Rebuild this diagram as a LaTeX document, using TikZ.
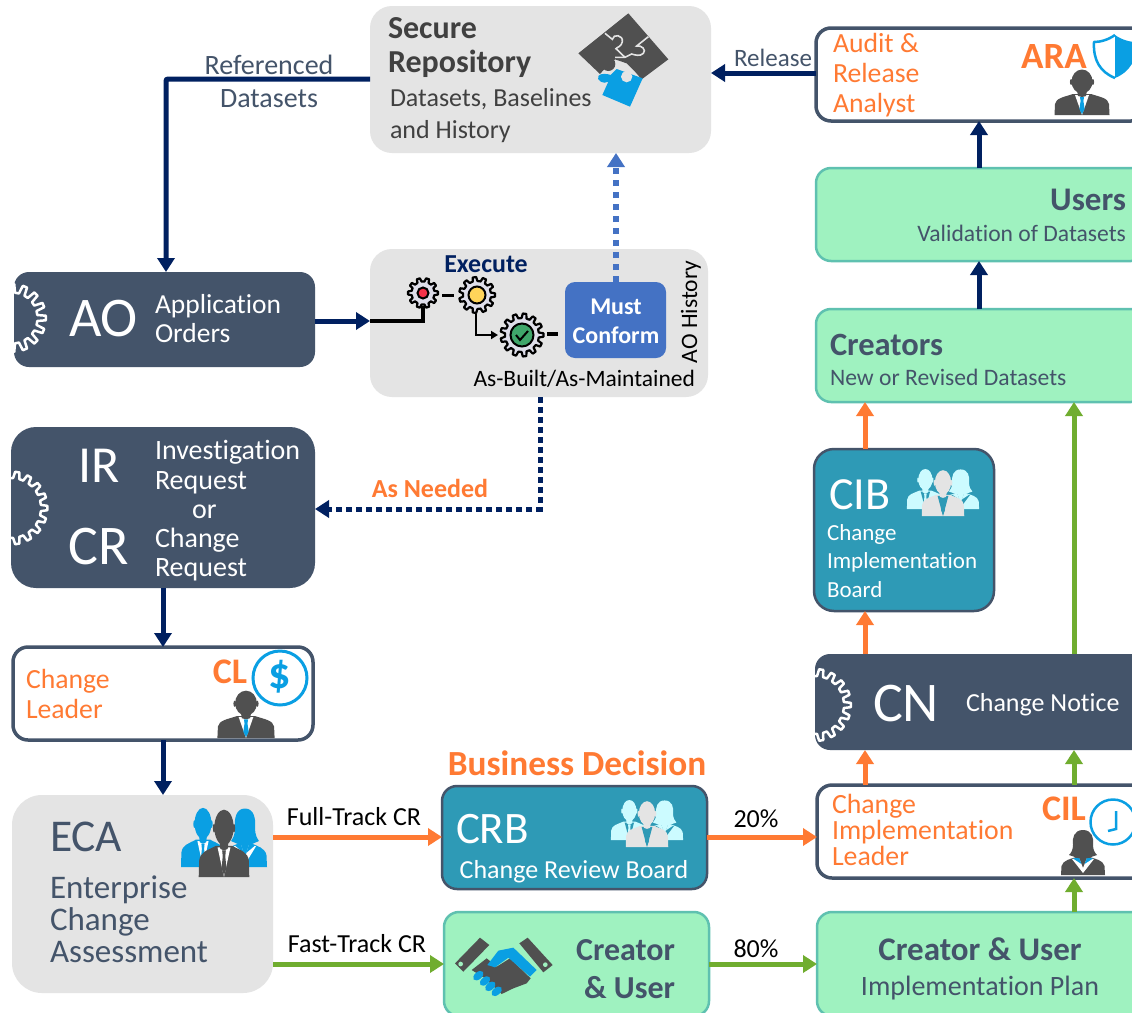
\documentclass[tikz,border=0pt]{standalone}
\usepackage{fontspec}
\setmainfont[Ligatures=NoCommon]{Carlito}
\usetikzlibrary{arrows.meta,shapes.geometric}
\definecolor{navy}{HTML}{002060}
\definecolor{slate}{HTML}{44546A}
\definecolor{panel}{HTML}{E4E4E4}
\definecolor{teal}{HTML}{2E9AB6}
\definecolor{mint}{HTML}{9FF2C0}
\definecolor{mintline}{HTML}{5FC1B0}
\definecolor{orng}{HTML}{FF7A33}
\definecolor{grn}{HTML}{70AD2F}
\definecolor{blu}{HTML}{4472C4}
\definecolor{sky}{HTML}{0A9FE3}
\definecolor{iconDark}{HTML}{505050}
\definecolor{txtDark}{HTML}{404040}
\definecolor{pale}{HTML}{CCFBFF}
\definecolor{cogfill}{HTML}{DEDEEA}
\definecolor{cogred}{HTML}{F5324A}
\definecolor{cogyel}{HTML}{FFD45A}
\definecolor{coggrn}{HTML}{3FA66B}
\newcommand\fsz[2]{\fontsize{#1}{#2}\selectfont}
\tikzset{
  bx/.style={draw,rectangle,inner sep=0pt,outer sep=0pt,anchor=north west},
  panelbox/.style={bx,draw=none,fill=panel,rounded corners=#1},
  darkbox/.style={bx,draw=none,fill=slate,rounded corners=#1},
  whitebox/.style={bx,draw=slate,line width=3.5pt,fill=white,rounded corners=15pt},
  mintbox/.style={bx,draw=mintline,line width=2.5pt,fill=mint,rounded corners=15pt},
  tealbox/.style={bx,draw=slate,line width=2.5pt,fill=teal,rounded corners=#1},
  txt/.style={inner sep=0pt,outer sep=0pt,anchor=west,align=left},
  conn/.style={line width=5pt,-{Triangle[length=14pt,width=17pt]}},
  navyarrow/.style={conn,draw=navy},
  orangearrow/.style={conn,draw=orng},
  greenarrow/.style={conn,draw=grn},
  halfgear/.style={draw=white,line width=2.5pt,line join=round},
  smallgear/.style={draw=black,fill=cogfill,line width=2.2pt,line join=round},
}
% gear outline
\newcommand\cog[6]{%
  \pgfmathsetmacro{\st}{360/#5}%
  \path[#6,shift={(#1,#2)}] ({-.3*\st}:#3)
    \foreach \i in {1,...,#5}{
      -- ({(\i-1)*\st-.3*\st}:#3) -- ({(\i-1)*\st-.17*\st}:#4) -- ({(\i-1)*\st+.17*\st}:#4) -- ({(\i-1)*\st+.3*\st}:#3)
    } -- cycle;}
% man icon: bottom centre x,y; scales; colours
\newcommand\manicon[7]{%
  \begin{scope}[shift={(#1,#2)},xscale=#3,yscale=#4]
    \fill[#5] (-27.5,0) -- (-27,-11) .. controls (-26,-17) and (-18,-18) .. (-9,-21) -- (9,-21) .. controls (18,-18) and (26,-17) .. (27,-11) -- (27.5,0) -- cycle;
    \fill[#6] (-7,-20) -- (7,-20) -- (0,0) -- cycle;
    \fill[#7] (-2,-18) -- (2,-18) -- (1.4,-14) -- (2.6,-6) -- (0,-1) -- (-2.6,-6) -- (-1.4,-14) -- cycle;
    \fill[#5] (-5,-25) -- (5,-25) -- (4,-19) -- (0,-18) -- (-4,-19) -- cycle;
    \fill[#5] (0,-33.5) ellipse (10.5 and 12);
    \fill[#5] (-10.8,-33) ellipse (1.3 and 3);
    \fill[#5] (10.8,-33) ellipse (1.3 and 3);
  \end{scope}}
\newcommand\womanicon[7]{%
  \begin{scope}[shift={(#1,#2)},xscale=#3,yscale=#4]
    \fill[#5] (-22,0) -- (-21.5,-9) .. controls (-20,-15) and (-12,-16) .. (-7,-18) -- (7,-18) .. controls (12,-16) and (20,-15) .. (21.5,-9) -- (22,0) -- cycle;
    \fill[#6] (-11,-16) -- (-4,-17) -- (0,-7) -- (4,-17) -- (11,-16) -- (0,-2) -- cycle;
    \fill[#7] (-10,-16.5) -- (-4,-17.5) -- (-1.5,-11) -- cycle;
    \fill[#7] (10,-16.5) -- (4,-17.5) -- (1.5,-11) -- cycle;
    \fill[#5] (0,-45) .. controls (-9,-45) and (-11,-37) .. (-10,-30) .. controls (-10,-25) and (-12,-22) .. (-14,-20) -- (-5,-17) -- (5,-17) -- (14,-20) .. controls (12,-22) and (10,-25) .. (10,-30) .. controls (11,-37) and (9,-45) .. (0,-45) -- cycle;
  \end{scope}}
% three-person group: x y xscale yscale back shirt front tie
\newcommand\groupicon[8]{%
  \begin{scope}[shift={(#1,#2)},xscale=#3,yscale=#4]
    \manicon{-21}{-10}{.8}{1.3}{#5}{#6}{#5}
    \womanicon{21}{-10}{1}{1.3}{#5}{#6}{#5}
    \manicon{0}{0}{.92}{1.48}{#7}{#6}{#8}
  \end{scope}}
\begin{document}
\begin{tikzpicture}[x=1pt,y=-1pt]
\useasboundingbox (0,0) rectangle (1132,1012);
\fill[white] (0,0) rectangle (1132,1012);
\clip (0,0) rectangle (1132,1012);
% column and row guides
\coordinate (colRef) at (166,79);
\coordinate (colLeft) at (163,0);
\coordinate (colUp) at (616,0);
\coordinate (colDn) at (540,0);
\coordinate (colOr) at (865,0);
\coordinate (colGr) at (1074,0);
\coordinate (colNv) at (979,0);
\coordinate (rowRel) at (0,73);
\coordinate (rowAO) at (0,321);
\coordinate (rowNeed) at (0,509);
\coordinate (rowFull) at (0,837);
\coordinate (rowFast) at (0,964);
% boxes
\node[panelbox=22pt,minimum width=341pt,minimum height=147pt] (repo) at (370,6) {};
\node[panelbox=22pt,minimum width=338pt,minimum height=148pt] (exec) at (370,249) {};
\node[darkbox=15pt,minimum width=301pt,minimum height=95pt] (ao) at (14,272) {};
\node[darkbox=25pt,minimum width=304pt,minimum height=161pt] (ircr) at (11,427) {};
\node[whitebox,minimum width=300pt,minimum height=93pt] (cl) at (13,647) {};
\node[panelbox=30pt,minimum width=261pt,minimum height=198pt] (eca) at (12,795) {};
\node[tealbox=15pt,minimum width=265pt,minimum height=103pt] (crb) at (442,786) {};
\node[mintbox,minimum width=265pt,minimum height=104pt] (cu) at (444,912) {};
\node[mintbox,minimum width=335pt,minimum height=104pt] (plan) at (817,912) {};
\node[whitebox,minimum width=330pt,minimum height=93pt] (cil) at (817,785) {};
\node[darkbox=15pt,minimum width=332pt,minimum height=96pt] (cn) at (815,654) {};
\node[tealbox=20pt,minimum width=180pt,minimum height=162pt] (cib) at (814,449) {};
\node[mintbox,minimum width=330pt,minimum height=93pt] (creators) at (816,309) {};
\node[mintbox,minimum width=330pt,minimum height=93pt] (users) at (816,168) {};
\node[whitebox,minimum width=330pt,minimum height=93pt] (ara) at (816,28) {};
\node[bx,draw=none,fill=blu,rounded corners=10pt,minimum width=101pt,minimum height=76pt] (must) at (565,282) {};
% connectors
\draw[navyarrow,rounded corners=2pt] (repo.west |- colRef) -- (colRef) -- (colRef |- ao.north);
\draw[navyarrow] (ara.west |- rowRel) -- (repo.east |- rowRel);
\draw[navyarrow] (users.north -| colNv) -- (ara.south -| colNv);
\draw[navyarrow] (creators.north -| colNv) -- (users.south -| colNv);
\draw[navyarrow] (ao.east |- rowAO) -- (exec.west |- rowAO);
\draw[navyarrow] (ircr.south -| colLeft) -- (cl.north -| colLeft);
\draw[navyarrow] (cl.south -| colLeft) -- (eca.north -| colLeft);
\draw[conn,line width=5.5pt,draw=blu,dash pattern=on 6pt off 6pt] (must.north -| colUp) -- (repo.south -| colUp);
\draw[conn,draw=navy,dash pattern=on 6pt off 4pt] (exec.south -| colDn) -- (colDn |- rowNeed) -- (ircr.east |- rowNeed);
\draw[orangearrow] (eca.east |- rowFull) -- (crb.west |- rowFull);
\draw[greenarrow] (eca.east |- rowFast) -- (cu.west |- rowFast);
\draw[orangearrow] (crb.east |- rowFull) -- (cil.west |- rowFull);
\draw[greenarrow] (cu.east |- rowFast) -- (plan.west |- rowFast);
\draw[greenarrow] (plan.north -| colGr) -- (cil.south -| colGr);
\draw[orangearrow] (cil.north -| colOr) -- (cn.south -| colOr);
\draw[greenarrow] (cil.north -| colGr) -- (cn.south -| colGr);
\draw[orangearrow] (cn.north -| colOr) -- (cib.south -| colOr);
\draw[orangearrow] (cib.north -| colOr) -- (creators.south -| colOr);
\draw[greenarrow] (cn.north -| colGr) -- (creators.south -| colGr);
% half gears
\begin{scope}
  \clip (14,272) rectangle (100,367);
  \cog{12}{318}{25.5}{34}{16}{halfgear}
\end{scope}
\begin{scope}
  \clip (11,427) rectangle (100,588);
  \cog{11}{508}{30}{36.5}{18}{halfgear}
\end{scope}
\begin{scope}
  \clip (815,654) rectangle (900,750);
  \cog{815}{705}{29}{36}{18}{halfgear}
\end{scope}
% execute gears
\draw[line width=3.5pt] (exec.west |- rowAO) -- (423,321) -- (423,306);
\draw[line width=3pt] (442,295) -- (454,295);
\draw[line width=2.5pt,-{Triangle[length=7pt,width=8pt]}] (476,314) -- (476,335) -- (498,335);
\draw[line width=4pt] (547,334) -- (558,334);
\cog{423}{293}{11.5}{15}{10}{smallgear}
\filldraw[fill=cogred,draw=black,line width=2pt] (423,293) circle (5.5);
\cog{477}{295}{14}{18}{11}{smallgear}
\filldraw[fill=cogyel,draw=black,line width=2pt] (477,295) circle (8.5);
\cog{522}{335}{17}{21.5}{13}{smallgear}
\filldraw[fill=coggrn,draw=black,line width=2pt] (522,335) circle (11.5);
\draw[black,line width=2pt] (516,335) -- (520,340) -- (528,331);
% repository puzzle
\begin{scope}[shift={(360,0)},scale=1/3]
  \fill[iconDark] (805,40) -- (925,178) -- (845,238) -- (825,215) -- (800,190) -- (765,178) -- (735,205) -- (720,222) -- (655,160) -- cycle;
  \fill[iconDark] (745,192) circle (21);
  \draw[panel,line width=1.6pt] (735,100) -- (757,118) .. controls (760,100) and (790,105) .. (787,125) .. controls (785,140) and (770,142) .. (768,146) -- (795,172);
  \draw[panel,line width=1.6pt] (865,110) -- (830,138) .. controls (845,135) and (860,150) .. (850,160) .. controls (840,170) and (825,165) .. (815,162) -- (795,172) -- (765,172);
  \fill[sky] (770,207) -- (848,235) -- (810,320) -- (727,285) -- (745,245) .. controls (730,255) and (708,240) .. (715,228) .. controls (722,218) and (745,222) .. (752,225) -- cycle;
  \fill[panel] (800,230) circle (17);
\end{scope}
% people and badges
\manicon{1082}{115}{1}{1}{iconDark}{white}{sky}
\manicon{246}{738}{1.04}{1.04}{iconDark}{white}{sky}
\womanicon{1083}{875}{1}{1}{iconDark}{white}{sky}
\groupicon{224}{877}{1}{1}{sky}{white}{iconDark}{iconDark}
\groupicon{647}{847}{.84}{.68}{pale}{teal}{panel}{teal}
\groupicon{943}{516}{.84}{.68}{pale}{teal}{panel}{teal}
% shield
\draw[sky,line width=2.5pt,line join=round] (1115,35) .. controls (1108,40) and (1100,42) .. (1094,42) .. controls (1093,60) and (1100,72) .. (1115,78);
\fill[sky] (1115,35) .. controls (1122,40) and (1130,42) .. (1136,42) .. controls (1137,60) and (1130,72) .. (1115,78) -- cycle;
% dollar
\draw[sky,line width=3pt] (280,678) circle (27);
\node[txt,anchor=center,text=sky,font=\bfseries\fsz{44}{44}] (dollar) at (280,677) {\$};
% clock
\draw[sky,line width=2.5pt,fill=white] (1113,822) circle (22.5);
\draw[sky,line width=2.5pt] (1116,811) -- (1116,829) -- (1108,831);
% handshake
\begin{scope}[shift={(430,770)},scale=1/3]
  \fill[iconDark] (75,580) -- (150,503) -- (178,525) -- (100,605) -- cycle;
  \fill[iconDark] (268,520) -- (293,503) -- (368,585) -- (340,607) -- cycle;
  \fill[mint] (92,582) circle (7);
  \fill[mint] (346,584) circle (7);
  \fill[iconDark] (125,600) -- (170,565) -- (200,590) -- (240,565) -- (302,625) -- (290,640) -- (250,655) -- (215,672) -- (165,625) -- cycle;
  \fill[sky] (172,585) -- (205,542) -- (250,533) -- (320,600) -- (300,620) -- (235,563) -- (195,592) -- cycle;
  \foreach \p/\q in {145/617,165/633,181/649,200/664}{\fill[sky,rotate around={40:(\p,\q)}] (\p,\q) ellipse (18 and 11);}
\end{scope}
% text
\node[txt,text=txtDark,font=\bfseries\fsz{32}{34}] (t1) at (388,48) {Secure\\Repository};
\node[txt,text=txtDark,font=\fsz{26}{32}] (t2) at (390,116) {Datasets, Baselines\\and History};
\node[txt,anchor=center,align=center,text=slate,font=\fsz{28}{33}] (t3) at (269,81) {Referenced\\Datasets};
\node[txt,anchor=center,text=slate,font=\fsz{25}{30}] (t4) at (773,58) {Release};
\node[txt,text=orng,font=\fsz{27.7}{30}] (t5) at (833,75) {Audit \&\\Release\\Analyst};
\node[txt,anchor=center,text=orng,font=\bfseries\fsz{37}{37}] (t6) at (1054,57) {ARA};
\node[txt,anchor=east,text=slate,font=\bfseries\fsz{33}{33}] (t7) at (1126,200) {Users};
\node[txt,anchor=east,text=slate,font=\fsz{23.6}{28}] (t8) at (1126,233) {Validation of Datasets};
\node[txt,text=slate,font=\bfseries\fsz{32.5}{32}] (t9) at (830,345) {Creators};
\node[txt,text=slate,font=\fsz{23.6}{28}] (t10) at (830,377) {New or Revised Datasets};
\node[txt,text=white,font=\fsz{56}{56}] (t11) at (69,319) {AO};
\node[txt,text=white,font=\fsz{27.5}{29}] (t12) at (155,319) {Application\\Orders};
\node[txt,anchor=center,text=navy,font=\bfseries\fsz{25.9}{28}] (t13) at (486,264) {Execute};
\node[txt,anchor=center,align=center,text=white,font=\bfseries\fsz{24}{29}] (t14) at (616,321) {Must\\Conform};
\node[txt,anchor=center,rotate=90,text=black,font=\fsz{23.5}{25}] (t15) at (691,312) {AO History};
\node[txt,anchor=east,text=black,font=\fsz{23.5}{25}] (t16) at (695,379) {As-Built/As-Maintained};
\node[txt,anchor=center,text=orng,font=\bfseries\fsz{26}{28}] (t17) at (430,488) {As Needed};
\node[txt,anchor=center,text=white,font=\fsz{52}{52}] (t18) at (99,466) {IR};
\node[txt,anchor=center,text=white,font=\fsz{56}{56}] (t19) at (99,547) {CR};
\node[txt,text=white,font=\fsz{28}{29.3}] (t20) at (155,511) {Investigation\\Request\\\hspace*{37pt}or\\Change\\Request};
\node[txt,text=orng,font=\fsz{27.7}{30}] (t21) at (26,694) {Change\\Leader};
\node[txt,anchor=center,text=orng,font=\bfseries\fsz{36}{36}] (t22) at (230,672) {CL};
\node[txt,text=slate,font=\fsz{45.5}{44}] (t23) at (50,837) {ECA};
\node[txt,text=slate,font=\fsz{33}{32}] (t24) at (50,919) {Enterprise\\Change\\Assessment};
\node[txt,anchor=center,text=black,font=\fsz{26}{28}] (t25) at (354,817) {Full-Track CR};
\node[txt,anchor=center,text=black,font=\fsz{26}{28}] (t26) at (357,944) {Fast-Track CR};
\node[txt,anchor=center,text=orng,font=\bfseries\fsz{35.3}{36}] (t27) at (577,763) {Business Decision};
\node[txt,text=white,font=\fsz{45}{45}] (t28) at (456,829) {CRB};
\node[txt,anchor=center,text=white,font=\fsz{26}{28}] (t29) at (574,872) {Change Review Board};
\node[txt,anchor=east,align=right,text=slate,font=\bfseries\fsz{32}{38}] (t30) at (675,969) {Creator\\\& User};
\node[txt,anchor=center,text=black,font=\fsz{26}{28}] (t31) at (756,819) {20\%};
\node[txt,anchor=center,text=black,font=\fsz{26}{28}] (t32) at (756,949) {80\%};
\node[txt,anchor=center,text=slate,font=\bfseries\fsz{33}{32}] (t33) at (980,949) {Creator \& User};
\node[txt,anchor=center,text=slate,font=\fsz{28}{28}] (t34) at (980,988) {Implementation Plan};
\node[txt,text=orng,font=\fsz{27.8}{26}] (t35) at (832,830) {Change\\Implementation\\Leader};
\node[txt,anchor=center,text=orng,font=\bfseries\fsz{36}{36}] (t36) at (1064,809) {CIL};
\node[txt,text=white,font=\fsz{56}{56}] (t37) at (873,704) {CN};
\node[txt,text=white,font=\fsz{26}{28}] (t38) at (966,705) {Change Notice};
\node[txt,text=white,font=\fsz{46}{44}] (t39) at (829,495) {CIB};
\node[txt,text=white,font=\fsz{23}{28.5}] (t40) at (827,561) {Change\\Implementation\\Board};
\end{tikzpicture}
\end{document}
